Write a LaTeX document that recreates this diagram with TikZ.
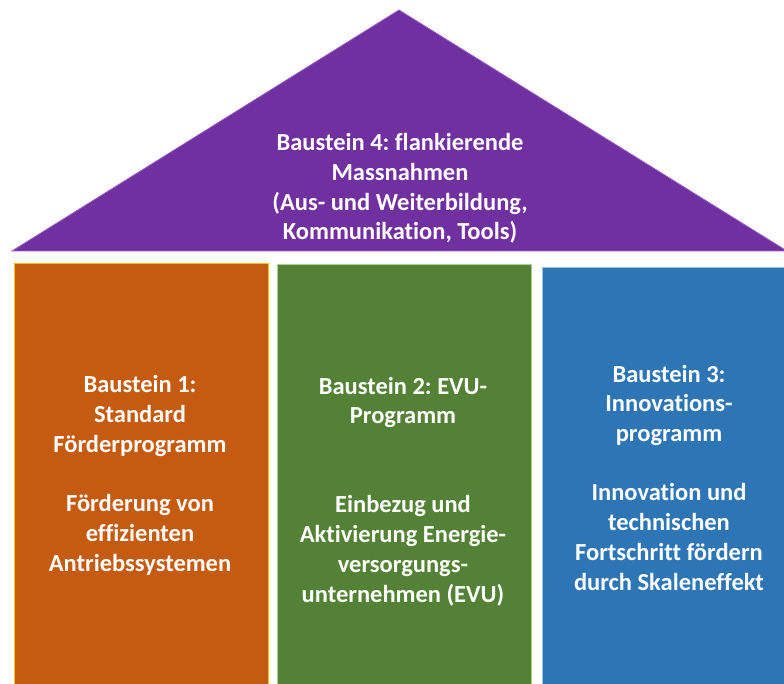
\documentclass[tikz,border=0pt]{standalone}
\usepackage{fontspec}
\setmainfont{Carlito}[Ligatures={NoCommon,NoRare,NoContextual}]
\usepackage{tikz}
\usetikzlibrary{calc}
\frenchspacing
\definecolor{dach}{HTML}{7030A0}
\definecolor{dachrand}{HTML}{9A5CC6}
\definecolor{orangebau}{HTML}{C55A11}
\definecolor{orangerand}{HTML}{FFC000}
\definecolor{gruenbau}{HTML}{538135}
\definecolor{gruenrand}{HTML}{A9D18E}
\definecolor{blaubau}{HTML}{2E75B6}
\definecolor{blaurand}{HTML}{9DC3E6}

\begin{document}
\begin{tikzpicture}[x=1pt,y=-1pt,
	saeule/.style={line width=1pt, minimum width=254pt, minimum height=440pt, anchor=north west, inner sep=0pt},
	schrift/.style={text=white, font=\bfseries\fontsize{24.5}{29.7}\selectfont, align=center, anchor=base}]
	
	\useasboundingbox (0,0) rectangle (784,684);
	\clip (0,0) rectangle (784,684);
	
	\coordinate (a) at (399,10);
	\coordinate (b) at (12,251);
	\coordinate (c) at (787,251);
	\fill[dach, draw=dachrand, line width=.8pt] (a) -- (b) -- (c) -- cycle;
	
	\node[saeule, fill=orangebau, draw=orangerand] (s1) at (13.5,263.5) {};
	\node[saeule, fill=gruenbau, draw=gruenrand] (s2) at (276.5,264) {};
	\node[saeule, fill=blaubau, draw=blaurand] (s3) at (542,267) {};
	
	\node[schrift] (t4) at (400,240) {Baustein 4: flankierende\\Massnahmen\\(Aus- und Weiterbildung,\\Kommunikation, Tools)};
	\node[schrift] (t1) at (140,571) {Baustein 1:\\Standard\\Förderprogramm\\[29.7pt]Förderung von\\effizienten\\Antriebssystemen};
	\node[schrift] (t2) at (403,602) {Baustein 2: EVU-\\Programm\\[59.4pt]Einbezug und\\Aktivierung Energie-\\versorgungs-\\unternehmen (EVU)};
	\node[schrift] (t3) at (669,590) {Baustein 3:\\Innovations-\\programm\\[29.7pt]Innovation und\\technischen\\Fortschritt fördern\\durch Skaleneffekt};
	
\end{tikzpicture}
\end{document}
